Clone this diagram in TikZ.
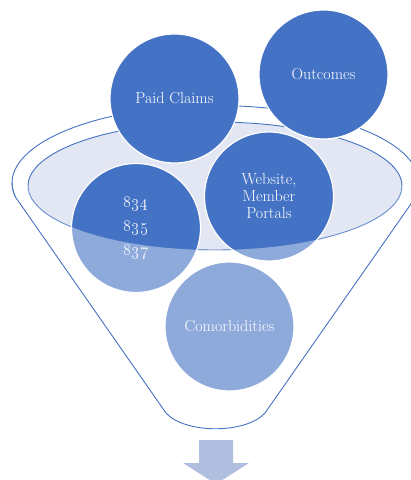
\documentclass[tikz,border=0pt]{standalone}
\usepackage{xcolor}
\definecolor{acc}{HTML}{4472C4}
\definecolor{rimfill}{HTML}{E2E7F3}
\definecolor{arrowc}{HTML}{B0BEE0}
\begin{document}
\begin{tikzpicture}[x=1pt,y=-1pt, line join=round,
  funnelline/.style={draw=acc, line width=0.9pt},
  bubble/.style={circle, fill=acc, draw=white, line width=1.2pt, minimum size=129pt,
    inner sep=0pt, text=white, font=\fontsize{16}{17}\selectfont, align=center}]
\useasboundingbox (0,0) rectangle (411,480);

% outer rim (top part, behind the circles)
\draw[funnelline] (15.4,197) arc[start angle=169.6, end angle=370.4, x radius=203.5, y radius=77.5];

% inner ellipse (mouth of the funnel)
\filldraw[fill=rimfill, draw=acc, line width=0.9pt] (215,186) ellipse [x radius=187, y radius=64];

% circles
\node[bubble] (paid) at (174.5,98.5) {Paid Claims};
\node[bubble] (outc) at (323.5,74.5) {Outcomes};
\node[bubble] (web) at (269,196.5) {Website,\\Member\\Portals};
\node[bubble] (edi) at (136,228) {\oldstylenums{834}\\[7pt]\oldstylenums{835}\\[7pt]\oldstylenums{837}};
\node[bubble] (comor) at (229.5,326.5) {Comorbidities};

% translucent front of funnel body
\fill[white, fill opacity=0.4] (12.1,183) arc[start angle=180, end angle=169.6, x radius=203.5, y radius=77.5]
  -- (166,413) .. controls (185,434) and (246,434) .. (265,413)
  -- (415.8,197) arc[start angle=10.4, end angle=0, x radius=203.5, y radius=77.5]
  -- (402,186) arc[start angle=0, end angle=180, x radius=187, y radius=64] -- cycle;

% funnel sides and bottom
\draw[funnelline] (12.1,183) arc[start angle=180, end angle=169.6, x radius=203.5, y radius=77.5]
  -- (166,413) .. controls (185,434) and (246,434) .. (265,413)
  -- (415.8,197) arc[start angle=10.4, end angle=0, x radius=203.5, y radius=77.5];

% arrow below
\fill[arrowc] (199,440) -- (233,440) -- (233,463) -- (249,463) -- (216,484) -- (183,463) -- (199,463) -- cycle;
\end{tikzpicture}
\end{document}
